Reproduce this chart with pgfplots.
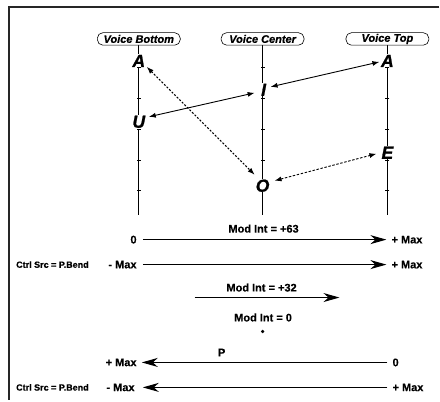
\documentclass[border=0pt]{standalone}
\usepackage{pgfplots}
\pgfplotsset{compat=1.18}
\usetikzlibrary{arrows.meta}
\usepackage{fontspec}
\setmainfont{Liberation Sans}
\newfontfamily\heavyfont[BoldItalicFeatures={FakeBold=1.2}]{Liberation Sans}
\newfontfamily\midfont[BoldItalicFeatures={FakeBold=0.5},BoldFeatures={FakeBold=0.4}]{Liberation Sans}
\newcommand{\fs}[1]{\fontsize{#1bp}{#1bp}\selectfont}
\begin{document}
\begin{tikzpicture}
\begin{axis}[width=440bp, height=401bp, scale only axis,
  xmin=0, xmax=440, ymin=0, ymax=401, y dir=reverse,
  hide axis, clip=false]
% frame
\addplot[draw=none, forget plot] coordinates {(0,0) (440,401)};
\addplot[black!85, line width=1.4bp] coordinates {(440,7) (9,7) (9,401)};
% voice lines
\addplot[black, line width=0.7bp] coordinates {(139,45) (139,215)};
\addplot[black, line width=0.7bp] coordinates {(263,45) (263,215)};
\addplot[black, line width=0.7bp] coordinates {(388,45) (388,215)};
\addplot[only marks, mark=-, mark size=2bp, mark options={line width=0.5bp}] coordinates {
 (139,67) (139,98) (139,129) (139,160) (139,191)
 (263,67) (263,98) (263,129) (263,160) (263,191)
 (388,67) (388,98) (388,129) (388,160) (388,191)};
% labels
\tikzset{vbox/.style={draw, rounded corners=5.5bp, minimum width=83bp, minimum height=12.5bp, inner sep=0pt, fill=white, line width=0.6bp, font=\midfont\fs{11}\bfseries\itshape}}
\node[vbox] at (axis cs:139,39) {Voice Bottom};
\node[vbox] at (axis cs:263,39) {Voice Center};
\node[vbox] at (axis cs:388,39) {Voice Top};
% vowel letters
\tikzset{vow/.style={fill=white, inner sep=0.6bp, font=\heavyfont\fs{17.5}\bfseries\itshape}}
\node[vow] at (axis cs:139,61) {A};
\node[vow] at (axis cs:139,122) {U};
\node[vow] at (axis cs:264,90) {I};
\node[vow] at (axis cs:263,186) {O};
\node[vow] at (axis cs:388,153) {E};
\node[vow] at (axis cs:388,61) {A};
% top arrows
\tikzset{sh/.style={line width=0.9bp, {Latex[length=7bp,width=5bp]}-{Latex[length=7bp,width=5bp]}}}
\addplot[sh] coordinates {(149,117) (255,93)};
\addplot[sh] coordinates {(271,87) (380,62)};
\addplot[sh, dash pattern=on 2bp off 1.6bp] coordinates {(147,67) (255,175)};
\addplot[sh, dash pattern=on 2.5bp off 1.6bp] coordinates {(275,181) (377,154)};
% bottom section
\tikzset{la/.style={line width=1.1bp, -{Stealth[length=16bp,width=9bp,inset=5bp]}},
  lb/.style={font=\midfont\fs{11}\bfseries}, lc/.style={font=\midfont\fs{9}\bfseries}}
\node[lb] at (axis cs:264,229) {Mod Int = +63};
\node[lb, anchor=east, inner sep=0pt] at (axis cs:137,240) {0};
\addplot[la] coordinates {(143,240) (387,240)};
\node[lb, anchor=west, inner sep=0pt] at (axis cs:392,240) {+ Max};
\node[lc, anchor=west, inner sep=0pt] at (axis cs:16,265) {Ctrl Src = P.Bend};
\node[lb, anchor=east, inner sep=0pt] at (axis cs:137,265) {- Max};
\addplot[la] coordinates {(143,265) (387,265)};
\node[lb, anchor=west, inner sep=0pt] at (axis cs:392,265) {+ Max};
\node[lb] at (axis cs:262,288) {Mod Int = +32};
\addplot[la] coordinates {(195,298) (340,298)};
\node[lb] at (axis cs:263.5,318) {Mod Int = 0};
\addplot[only marks, mark=*, mark size=1.5bp] coordinates {(263,332)};
\node[lb] at (axis cs:222,353) {P};
\node[lb, anchor=east, inner sep=0pt] at (axis cs:137,363) {+ Max};
\addplot[la] coordinates {(388,363) (142,363)};
\node[lb, anchor=west, inner sep=0pt] at (axis cs:393,363) {0};
\node[lc, anchor=west, inner sep=0pt] at (axis cs:16,388) {Ctrl Src = P.Bend};
\node[lb, anchor=east, inner sep=0pt] at (axis cs:135,388) {- Max};
\addplot[la] coordinates {(388,388) (143,388)};
\node[lb, anchor=west, inner sep=0pt] at (axis cs:393,388) {+ Max};
\end{axis}
\end{tikzpicture}
\end{document}
